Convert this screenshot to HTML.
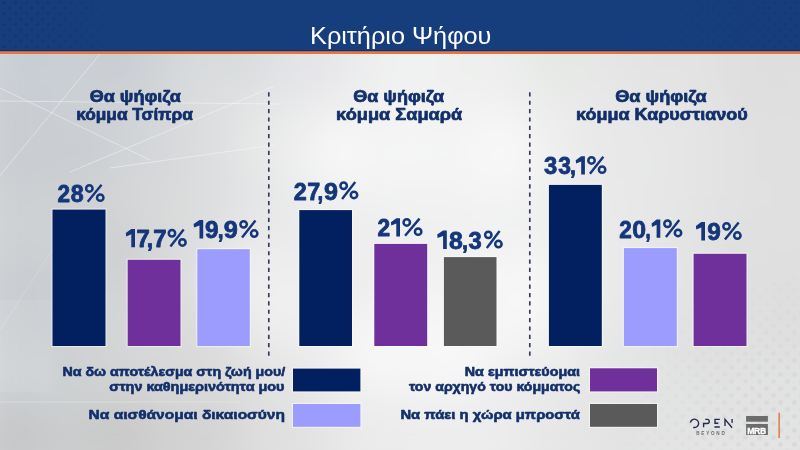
<!DOCTYPE html>
<html><head><meta charset="utf-8">
<style>
html,body{margin:0;padding:0;}
body{width:800px;height:450px;overflow:hidden;position:relative;font-family:"Liberation Sans",sans-serif;background:#e6e6e7;}
svg{position:absolute;left:0;top:0;will-change:transform;}
text{font-family:"Liberation Sans",sans-serif;}
</style></head><body>
<svg width="800" height="450" viewBox="0 0 800 450">

<defs><filter id="bl" x="-5%" y="-5%" width="110%" height="110%"><feGaussianBlur stdDeviation="18"/></filter></defs>
<g filter="url(#bl)"><rect x="-20" y="-20" width="20" height="20" fill="#cacfd5"/><rect x="0" y="-20" width="20" height="20" fill="#c9cfd5"/><rect x="20" y="-20" width="20" height="20" fill="#c8ced5"/><rect x="40" y="-20" width="20" height="20" fill="#c9cfd5"/><rect x="60" y="-20" width="20" height="20" fill="#cbd0d5"/><rect x="80" y="-20" width="20" height="20" fill="#cbcfd3"/><rect x="100" y="-20" width="20" height="20" fill="#c9cdd1"/><rect x="120" y="-20" width="20" height="20" fill="#c9cdd1"/><rect x="140" y="-20" width="20" height="20" fill="#cdd1d4"/><rect x="160" y="-20" width="20" height="20" fill="#d3d6d9"/><rect x="180" y="-20" width="20" height="20" fill="#d8dadd"/><rect x="200" y="-20" width="20" height="20" fill="#d9dcde"/><rect x="220" y="-20" width="20" height="20" fill="#d8dbdd"/><rect x="240" y="-20" width="20" height="20" fill="#d9dcde"/><rect x="260" y="-20" width="20" height="20" fill="#dfe0e3"/><rect x="280" y="-20" width="20" height="20" fill="#e4e4e8"/><rect x="300" y="-20" width="20" height="20" fill="#e4e4e8"/><rect x="320" y="-20" width="20" height="20" fill="#e5e6e9"/><rect x="340" y="-20" width="20" height="20" fill="#e9eaeb"/><rect x="360" y="-20" width="20" height="20" fill="#edeeee"/><rect x="380" y="-20" width="20" height="20" fill="#f0f1f1"/><rect x="400" y="-20" width="20" height="20" fill="#f1f2f2"/><rect x="420" y="-20" width="20" height="20" fill="#f0f1f1"/><rect x="440" y="-20" width="20" height="20" fill="#eef0ee"/><rect x="460" y="-20" width="20" height="20" fill="#eef0ee"/><rect x="480" y="-20" width="20" height="20" fill="#eeefee"/><rect x="500" y="-20" width="20" height="20" fill="#ecedec"/><rect x="520" y="-20" width="20" height="20" fill="#e8eae8"/><rect x="540" y="-20" width="20" height="20" fill="#e6e8e6"/><rect x="560" y="-20" width="20" height="20" fill="#e6e8e6"/><rect x="580" y="-20" width="20" height="20" fill="#e6e8e6"/><rect x="600" y="-20" width="20" height="20" fill="#e5e6e5"/><rect x="620" y="-20" width="20" height="20" fill="#e3e4e3"/><rect x="640" y="-20" width="20" height="20" fill="#e2e3e2"/><rect x="660" y="-20" width="20" height="20" fill="#e2e3e2"/><rect x="680" y="-20" width="20" height="20" fill="#e3e3e3"/><rect x="700" y="-20" width="20" height="20" fill="#e2e2e2"/><rect x="720" y="-20" width="20" height="20" fill="#e0e0e0"/><rect x="740" y="-20" width="20" height="20" fill="#dfdfdf"/><rect x="760" y="-20" width="20" height="20" fill="#dedede"/><rect x="780" y="-20" width="20" height="20" fill="#dedede"/><rect x="800" y="-20" width="20" height="20" fill="#dfdfdf"/><rect x="820" y="-20" width="20" height="20" fill="#dfdfdf"/><rect x="-20" y="0" width="20" height="20" fill="#cacfd5"/><rect x="0" y="0" width="20" height="20" fill="#c9cfd5"/><rect x="20" y="0" width="20" height="20" fill="#c8ced5"/><rect x="40" y="0" width="20" height="20" fill="#c9cfd5"/><rect x="60" y="0" width="20" height="20" fill="#cbd0d5"/><rect x="80" y="0" width="20" height="20" fill="#cbcfd3"/><rect x="100" y="0" width="20" height="20" fill="#c9cdd1"/><rect x="120" y="0" width="20" height="20" fill="#c9cdd1"/><rect x="140" y="0" width="20" height="20" fill="#cdd1d4"/><rect x="160" y="0" width="20" height="20" fill="#d3d6d9"/><rect x="180" y="0" width="20" height="20" fill="#d8dadd"/><rect x="200" y="0" width="20" height="20" fill="#d9dcde"/><rect x="220" y="0" width="20" height="20" fill="#d8dbdd"/><rect x="240" y="0" width="20" height="20" fill="#d9dcde"/><rect x="260" y="0" width="20" height="20" fill="#dfe0e3"/><rect x="280" y="0" width="20" height="20" fill="#e4e4e8"/><rect x="300" y="0" width="20" height="20" fill="#e4e4e8"/><rect x="320" y="0" width="20" height="20" fill="#e5e6e9"/><rect x="340" y="0" width="20" height="20" fill="#e9eaeb"/><rect x="360" y="0" width="20" height="20" fill="#edeeee"/><rect x="380" y="0" width="20" height="20" fill="#f0f1f1"/><rect x="400" y="0" width="20" height="20" fill="#f1f2f2"/><rect x="420" y="0" width="20" height="20" fill="#f0f1f1"/><rect x="440" y="0" width="20" height="20" fill="#eef0ee"/><rect x="460" y="0" width="20" height="20" fill="#eef0ee"/><rect x="480" y="0" width="20" height="20" fill="#eeefee"/><rect x="500" y="0" width="20" height="20" fill="#ecedec"/><rect x="520" y="0" width="20" height="20" fill="#e8eae8"/><rect x="540" y="0" width="20" height="20" fill="#e6e8e6"/><rect x="560" y="0" width="20" height="20" fill="#e6e8e6"/><rect x="580" y="0" width="20" height="20" fill="#e6e8e6"/><rect x="600" y="0" width="20" height="20" fill="#e5e6e5"/><rect x="620" y="0" width="20" height="20" fill="#e3e4e3"/><rect x="640" y="0" width="20" height="20" fill="#e2e3e2"/><rect x="660" y="0" width="20" height="20" fill="#e2e3e2"/><rect x="680" y="0" width="20" height="20" fill="#e3e3e3"/><rect x="700" y="0" width="20" height="20" fill="#e2e2e2"/><rect x="720" y="0" width="20" height="20" fill="#e0e0e0"/><rect x="740" y="0" width="20" height="20" fill="#dfdfdf"/><rect x="760" y="0" width="20" height="20" fill="#dedede"/><rect x="780" y="0" width="20" height="20" fill="#dedede"/><rect x="800" y="0" width="20" height="20" fill="#dfdfdf"/><rect x="820" y="0" width="20" height="20" fill="#dfdfdf"/><rect x="-20" y="20" width="20" height="20" fill="#cacfd5"/><rect x="0" y="20" width="20" height="20" fill="#c9cfd5"/><rect x="20" y="20" width="20" height="20" fill="#c8ced5"/><rect x="40" y="20" width="20" height="20" fill="#c9cfd5"/><rect x="60" y="20" width="20" height="20" fill="#cbd0d5"/><rect x="80" y="20" width="20" height="20" fill="#cbcfd3"/><rect x="100" y="20" width="20" height="20" fill="#c9cdd1"/><rect x="120" y="20" width="20" height="20" fill="#c9cdd1"/><rect x="140" y="20" width="20" height="20" fill="#cdd1d4"/><rect x="160" y="20" width="20" height="20" fill="#d3d6d9"/><rect x="180" y="20" width="20" height="20" fill="#d8dadd"/><rect x="200" y="20" width="20" height="20" fill="#d9dcde"/><rect x="220" y="20" width="20" height="20" fill="#d8dbdd"/><rect x="240" y="20" width="20" height="20" fill="#d9dcde"/><rect x="260" y="20" width="20" height="20" fill="#dfe0e3"/><rect x="280" y="20" width="20" height="20" fill="#e4e4e8"/><rect x="300" y="20" width="20" height="20" fill="#e4e4e8"/><rect x="320" y="20" width="20" height="20" fill="#e5e6e9"/><rect x="340" y="20" width="20" height="20" fill="#e9eaeb"/><rect x="360" y="20" width="20" height="20" fill="#edeeee"/><rect x="380" y="20" width="20" height="20" fill="#f0f1f1"/><rect x="400" y="20" width="20" height="20" fill="#f1f2f2"/><rect x="420" y="20" width="20" height="20" fill="#f0f1f1"/><rect x="440" y="20" width="20" height="20" fill="#eef0ee"/><rect x="460" y="20" width="20" height="20" fill="#eef0ee"/><rect x="480" y="20" width="20" height="20" fill="#eeefee"/><rect x="500" y="20" width="20" height="20" fill="#ecedec"/><rect x="520" y="20" width="20" height="20" fill="#e8eae8"/><rect x="540" y="20" width="20" height="20" fill="#e6e8e6"/><rect x="560" y="20" width="20" height="20" fill="#e6e8e6"/><rect x="580" y="20" width="20" height="20" fill="#e6e8e6"/><rect x="600" y="20" width="20" height="20" fill="#e5e6e5"/><rect x="620" y="20" width="20" height="20" fill="#e3e4e3"/><rect x="640" y="20" width="20" height="20" fill="#e2e3e2"/><rect x="660" y="20" width="20" height="20" fill="#e2e3e2"/><rect x="680" y="20" width="20" height="20" fill="#e3e3e3"/><rect x="700" y="20" width="20" height="20" fill="#e2e2e2"/><rect x="720" y="20" width="20" height="20" fill="#e0e0e0"/><rect x="740" y="20" width="20" height="20" fill="#dfdfdf"/><rect x="760" y="20" width="20" height="20" fill="#dedede"/><rect x="780" y="20" width="20" height="20" fill="#dedede"/><rect x="800" y="20" width="20" height="20" fill="#dfdfdf"/><rect x="820" y="20" width="20" height="20" fill="#dfdfdf"/><rect x="-20" y="40" width="20" height="20" fill="#cacfd5"/><rect x="0" y="40" width="20" height="20" fill="#c9cfd5"/><rect x="20" y="40" width="20" height="20" fill="#c8ced5"/><rect x="40" y="40" width="20" height="20" fill="#c9cfd5"/><rect x="60" y="40" width="20" height="20" fill="#cbd0d5"/><rect x="80" y="40" width="20" height="20" fill="#cbcfd3"/><rect x="100" y="40" width="20" height="20" fill="#c9cdd1"/><rect x="120" y="40" width="20" height="20" fill="#c9cdd1"/><rect x="140" y="40" width="20" height="20" fill="#cdd1d4"/><rect x="160" y="40" width="20" height="20" fill="#d3d6d9"/><rect x="180" y="40" width="20" height="20" fill="#d8dadd"/><rect x="200" y="40" width="20" height="20" fill="#d9dcde"/><rect x="220" y="40" width="20" height="20" fill="#d8dbdd"/><rect x="240" y="40" width="20" height="20" fill="#d9dcde"/><rect x="260" y="40" width="20" height="20" fill="#dfe0e3"/><rect x="280" y="40" width="20" height="20" fill="#e4e4e8"/><rect x="300" y="40" width="20" height="20" fill="#e4e4e8"/><rect x="320" y="40" width="20" height="20" fill="#e5e6e9"/><rect x="340" y="40" width="20" height="20" fill="#e9eaeb"/><rect x="360" y="40" width="20" height="20" fill="#edeeee"/><rect x="380" y="40" width="20" height="20" fill="#f0f1f1"/><rect x="400" y="40" width="20" height="20" fill="#f1f2f2"/><rect x="420" y="40" width="20" height="20" fill="#f0f1f1"/><rect x="440" y="40" width="20" height="20" fill="#eef0ee"/><rect x="460" y="40" width="20" height="20" fill="#eef0ee"/><rect x="480" y="40" width="20" height="20" fill="#eeefee"/><rect x="500" y="40" width="20" height="20" fill="#ecedec"/><rect x="520" y="40" width="20" height="20" fill="#e8eae8"/><rect x="540" y="40" width="20" height="20" fill="#e6e8e6"/><rect x="560" y="40" width="20" height="20" fill="#e6e8e6"/><rect x="580" y="40" width="20" height="20" fill="#e6e8e6"/><rect x="600" y="40" width="20" height="20" fill="#e5e6e5"/><rect x="620" y="40" width="20" height="20" fill="#e3e4e3"/><rect x="640" y="40" width="20" height="20" fill="#e2e3e2"/><rect x="660" y="40" width="20" height="20" fill="#e2e3e2"/><rect x="680" y="40" width="20" height="20" fill="#e3e3e3"/><rect x="700" y="40" width="20" height="20" fill="#e2e2e2"/><rect x="720" y="40" width="20" height="20" fill="#e0e0e0"/><rect x="740" y="40" width="20" height="20" fill="#dfdfdf"/><rect x="760" y="40" width="20" height="20" fill="#dedede"/><rect x="780" y="40" width="20" height="20" fill="#dedede"/><rect x="800" y="40" width="20" height="20" fill="#dfdfdf"/><rect x="820" y="40" width="20" height="20" fill="#dfdfdf"/><rect x="-20" y="60" width="20" height="20" fill="#c9cfd5"/><rect x="0" y="60" width="20" height="20" fill="#c9ced5"/><rect x="20" y="60" width="20" height="20" fill="#c8ced5"/><rect x="40" y="60" width="20" height="20" fill="#c9ced5"/><rect x="60" y="60" width="20" height="20" fill="#cbcfd5"/><rect x="80" y="60" width="20" height="20" fill="#cbcfd3"/><rect x="100" y="60" width="20" height="20" fill="#c9cdd1"/><rect x="120" y="60" width="20" height="20" fill="#cacdd1"/><rect x="140" y="60" width="20" height="20" fill="#ced1d5"/><rect x="160" y="60" width="20" height="20" fill="#d4d7d9"/><rect x="180" y="60" width="20" height="20" fill="#d8dbdd"/><rect x="200" y="60" width="20" height="20" fill="#dadcde"/><rect x="220" y="60" width="20" height="20" fill="#d8dbdd"/><rect x="240" y="60" width="20" height="20" fill="#d9dcde"/><rect x="260" y="60" width="20" height="20" fill="#dfe1e3"/><rect x="280" y="60" width="20" height="20" fill="#e4e4e8"/><rect x="300" y="60" width="20" height="20" fill="#e4e4e8"/><rect x="320" y="60" width="20" height="20" fill="#e6e6e9"/><rect x="340" y="60" width="20" height="20" fill="#eaeaec"/><rect x="360" y="60" width="20" height="20" fill="#eeeeef"/><rect x="380" y="60" width="20" height="20" fill="#f1f1f1"/><rect x="400" y="60" width="20" height="20" fill="#f2f2f2"/><rect x="420" y="60" width="20" height="20" fill="#f1f1f1"/><rect x="440" y="60" width="20" height="20" fill="#eff0ef"/><rect x="460" y="60" width="20" height="20" fill="#eef0ee"/><rect x="480" y="60" width="20" height="20" fill="#eef0ee"/><rect x="500" y="60" width="20" height="20" fill="#eceeec"/><rect x="520" y="60" width="20" height="20" fill="#e8eae9"/><rect x="540" y="60" width="20" height="20" fill="#e6e8e6"/><rect x="560" y="60" width="20" height="20" fill="#e6e8e6"/><rect x="580" y="60" width="20" height="20" fill="#e6e8e6"/><rect x="600" y="60" width="20" height="20" fill="#e5e6e5"/><rect x="620" y="60" width="20" height="20" fill="#e3e4e3"/><rect x="640" y="60" width="20" height="20" fill="#e2e3e2"/><rect x="660" y="60" width="20" height="20" fill="#e2e3e2"/><rect x="680" y="60" width="20" height="20" fill="#e3e3e3"/><rect x="700" y="60" width="20" height="20" fill="#e2e2e2"/><rect x="720" y="60" width="20" height="20" fill="#e0e0e0"/><rect x="740" y="60" width="20" height="20" fill="#dedede"/><rect x="760" y="60" width="20" height="20" fill="#dedede"/><rect x="780" y="60" width="20" height="20" fill="#dedede"/><rect x="800" y="60" width="20" height="20" fill="#dfdfdf"/><rect x="820" y="60" width="20" height="20" fill="#dfdfdf"/><rect x="-20" y="80" width="20" height="20" fill="#caced4"/><rect x="0" y="80" width="20" height="20" fill="#c9ced4"/><rect x="20" y="80" width="20" height="20" fill="#c9ced5"/><rect x="40" y="80" width="20" height="20" fill="#cacfd5"/><rect x="60" y="80" width="20" height="20" fill="#ccd0d4"/><rect x="80" y="80" width="20" height="20" fill="#ccd0d4"/><rect x="100" y="80" width="20" height="20" fill="#ccd0d3"/><rect x="120" y="80" width="20" height="20" fill="#cdd0d4"/><rect x="140" y="80" width="20" height="20" fill="#d1d4d7"/><rect x="160" y="80" width="20" height="20" fill="#d5d8da"/><rect x="180" y="80" width="20" height="20" fill="#d9dbdd"/><rect x="200" y="80" width="20" height="20" fill="#dbdddf"/><rect x="220" y="80" width="20" height="20" fill="#dcdee0"/><rect x="240" y="80" width="20" height="20" fill="#dddfe1"/><rect x="260" y="80" width="20" height="20" fill="#e2e3e5"/><rect x="280" y="80" width="20" height="20" fill="#e4e5e8"/><rect x="300" y="80" width="20" height="20" fill="#e6e6e9"/><rect x="320" y="80" width="20" height="20" fill="#e9e9eb"/><rect x="340" y="80" width="20" height="20" fill="#ecedee"/><rect x="360" y="80" width="20" height="20" fill="#efeff0"/><rect x="380" y="80" width="20" height="20" fill="#f1f1f1"/><rect x="400" y="80" width="20" height="20" fill="#f1f2f2"/><rect x="420" y="80" width="20" height="20" fill="#f1f1f1"/><rect x="440" y="80" width="20" height="20" fill="#eff0f0"/><rect x="460" y="80" width="20" height="20" fill="#eff0ef"/><rect x="480" y="80" width="20" height="20" fill="#eff0ef"/><rect x="500" y="80" width="20" height="20" fill="#eeefee"/><rect x="520" y="80" width="20" height="20" fill="#ebeceb"/><rect x="540" y="80" width="20" height="20" fill="#e8eae8"/><rect x="560" y="80" width="20" height="20" fill="#e7e9e7"/><rect x="580" y="80" width="20" height="20" fill="#e7e8e7"/><rect x="600" y="80" width="20" height="20" fill="#e6e7e6"/><rect x="620" y="80" width="20" height="20" fill="#e4e5e4"/><rect x="640" y="80" width="20" height="20" fill="#e3e4e3"/><rect x="660" y="80" width="20" height="20" fill="#e3e4e3"/><rect x="680" y="80" width="20" height="20" fill="#e3e4e3"/><rect x="700" y="80" width="20" height="20" fill="#e2e2e2"/><rect x="720" y="80" width="20" height="20" fill="#e0e0e0"/><rect x="740" y="80" width="20" height="20" fill="#dfdfdf"/><rect x="760" y="80" width="20" height="20" fill="#dedede"/><rect x="780" y="80" width="20" height="20" fill="#dfdfdf"/><rect x="800" y="80" width="20" height="20" fill="#dfdfdf"/><rect x="820" y="80" width="20" height="20" fill="#dfdfdf"/><rect x="-20" y="100" width="20" height="20" fill="#c9cdd1"/><rect x="0" y="100" width="20" height="20" fill="#c9cdd1"/><rect x="20" y="100" width="20" height="20" fill="#caced2"/><rect x="40" y="100" width="20" height="20" fill="#cbcfd3"/><rect x="60" y="100" width="20" height="20" fill="#cccfd3"/><rect x="80" y="100" width="20" height="20" fill="#cdd0d4"/><rect x="100" y="100" width="20" height="20" fill="#cfd2d5"/><rect x="120" y="100" width="20" height="20" fill="#d1d4d7"/><rect x="140" y="100" width="20" height="20" fill="#d3d6d9"/><rect x="160" y="100" width="20" height="20" fill="#d6d9db"/><rect x="180" y="100" width="20" height="20" fill="#dadcde"/><rect x="200" y="100" width="20" height="20" fill="#dddee0"/><rect x="220" y="100" width="20" height="20" fill="#dfe1e2"/><rect x="240" y="100" width="20" height="20" fill="#e3e5e5"/><rect x="260" y="100" width="20" height="20" fill="#e6e8e8"/><rect x="280" y="100" width="20" height="20" fill="#e8e9e9"/><rect x="300" y="100" width="20" height="20" fill="#ebebec"/><rect x="320" y="100" width="20" height="20" fill="#eeefef"/><rect x="340" y="100" width="20" height="20" fill="#f0f0f1"/><rect x="360" y="100" width="20" height="20" fill="#f0f1f1"/><rect x="380" y="100" width="20" height="20" fill="#f1f2f2"/><rect x="400" y="100" width="20" height="20" fill="#f2f2f2"/><rect x="420" y="100" width="20" height="20" fill="#f1f2f2"/><rect x="440" y="100" width="20" height="20" fill="#f1f1f1"/><rect x="460" y="100" width="20" height="20" fill="#f1f2f1"/><rect x="480" y="100" width="20" height="20" fill="#f2f3f2"/><rect x="500" y="100" width="20" height="20" fill="#f1f2f2"/><rect x="520" y="100" width="20" height="20" fill="#eeefef"/><rect x="540" y="100" width="20" height="20" fill="#ebeceb"/><rect x="560" y="100" width="20" height="20" fill="#e9eae9"/><rect x="580" y="100" width="20" height="20" fill="#e8e9e8"/><rect x="600" y="100" width="20" height="20" fill="#e7e8e7"/><rect x="620" y="100" width="20" height="20" fill="#e6e7e6"/><rect x="640" y="100" width="20" height="20" fill="#e5e6e5"/><rect x="660" y="100" width="20" height="20" fill="#e4e5e5"/><rect x="680" y="100" width="20" height="20" fill="#e4e4e4"/><rect x="700" y="100" width="20" height="20" fill="#e2e3e2"/><rect x="720" y="100" width="20" height="20" fill="#e1e1e1"/><rect x="740" y="100" width="20" height="20" fill="#e0e0e0"/><rect x="760" y="100" width="20" height="20" fill="#e0e0e0"/><rect x="780" y="100" width="20" height="20" fill="#e0e0e0"/><rect x="800" y="100" width="20" height="20" fill="#e0e0e0"/><rect x="820" y="100" width="20" height="20" fill="#e0e0e0"/><rect x="-20" y="120" width="20" height="20" fill="#c8cbcf"/><rect x="0" y="120" width="20" height="20" fill="#c8cbcf"/><rect x="20" y="120" width="20" height="20" fill="#c9ccd0"/><rect x="40" y="120" width="20" height="20" fill="#cbced2"/><rect x="60" y="120" width="20" height="20" fill="#cacdd1"/><rect x="80" y="120" width="20" height="20" fill="#cbced2"/><rect x="100" y="120" width="20" height="20" fill="#cfd1d5"/><rect x="120" y="120" width="20" height="20" fill="#d2d5d8"/><rect x="140" y="120" width="20" height="20" fill="#d3d6d8"/><rect x="160" y="120" width="20" height="20" fill="#d6d8da"/><rect x="180" y="120" width="20" height="20" fill="#dbdcde"/><rect x="200" y="120" width="20" height="20" fill="#dedee0"/><rect x="220" y="120" width="20" height="20" fill="#e0e1e2"/><rect x="240" y="120" width="20" height="20" fill="#e7e8e8"/><rect x="260" y="120" width="20" height="20" fill="#eaecea"/><rect x="280" y="120" width="20" height="20" fill="#eaecea"/><rect x="300" y="120" width="20" height="20" fill="#f0f0f0"/><rect x="320" y="120" width="20" height="20" fill="#f6f6f6"/><rect x="340" y="120" width="20" height="20" fill="#f5f5f5"/><rect x="360" y="120" width="20" height="20" fill="#f3f3f3"/><rect x="380" y="120" width="20" height="20" fill="#f4f4f4"/><rect x="400" y="120" width="20" height="20" fill="#f5f5f5"/><rect x="420" y="120" width="20" height="20" fill="#f4f4f4"/><rect x="440" y="120" width="20" height="20" fill="#f3f3f3"/><rect x="460" y="120" width="20" height="20" fill="#f4f4f4"/><rect x="480" y="120" width="20" height="20" fill="#f7f7f7"/><rect x="500" y="120" width="20" height="20" fill="#f7f7f7"/><rect x="520" y="120" width="20" height="20" fill="#f3f3f3"/><rect x="540" y="120" width="20" height="20" fill="#eeefee"/><rect x="560" y="120" width="20" height="20" fill="#eaebeb"/><rect x="580" y="120" width="20" height="20" fill="#e9e9e9"/><rect x="600" y="120" width="20" height="20" fill="#e8e8e8"/><rect x="620" y="120" width="20" height="20" fill="#e8e8e8"/><rect x="640" y="120" width="20" height="20" fill="#e7e7e7"/><rect x="660" y="120" width="20" height="20" fill="#e6e6e6"/><rect x="680" y="120" width="20" height="20" fill="#e4e5e4"/><rect x="700" y="120" width="20" height="20" fill="#e3e3e3"/><rect x="720" y="120" width="20" height="20" fill="#e1e2e1"/><rect x="740" y="120" width="20" height="20" fill="#e0e1e0"/><rect x="760" y="120" width="20" height="20" fill="#e0e0e0"/><rect x="780" y="120" width="20" height="20" fill="#e0e0e0"/><rect x="800" y="120" width="20" height="20" fill="#e0e0e0"/><rect x="820" y="120" width="20" height="20" fill="#e0e0e0"/><rect x="-20" y="140" width="20" height="20" fill="#c8cbcf"/><rect x="0" y="140" width="20" height="20" fill="#c8cbcf"/><rect x="20" y="140" width="20" height="20" fill="#c9ccd0"/><rect x="40" y="140" width="20" height="20" fill="#cacdd1"/><rect x="60" y="140" width="20" height="20" fill="#c9ccd0"/><rect x="80" y="140" width="20" height="20" fill="#c9ccd0"/><rect x="100" y="140" width="20" height="20" fill="#ced1d4"/><rect x="120" y="140" width="20" height="20" fill="#d2d5d8"/><rect x="140" y="140" width="20" height="20" fill="#d2d5d8"/><rect x="160" y="140" width="20" height="20" fill="#d5d7da"/><rect x="180" y="140" width="20" height="20" fill="#dcdddf"/><rect x="200" y="140" width="20" height="20" fill="#dedee0"/><rect x="220" y="140" width="20" height="20" fill="#dfe0e1"/><rect x="240" y="140" width="20" height="20" fill="#e7e8e7"/><rect x="260" y="140" width="20" height="20" fill="#eaecea"/><rect x="280" y="140" width="20" height="20" fill="#ebeceb"/><rect x="300" y="140" width="20" height="20" fill="#f3f3f3"/><rect x="320" y="140" width="20" height="20" fill="#f9f9f9"/><rect x="340" y="140" width="20" height="20" fill="#f8f8f8"/><rect x="360" y="140" width="20" height="20" fill="#f4f4f4"/><rect x="380" y="140" width="20" height="20" fill="#f5f5f5"/><rect x="400" y="140" width="20" height="20" fill="#f6f6f6"/><rect x="420" y="140" width="20" height="20" fill="#f5f5f5"/><rect x="440" y="140" width="20" height="20" fill="#f4f4f4"/><rect x="460" y="140" width="20" height="20" fill="#f6f6f6"/><rect x="480" y="140" width="20" height="20" fill="#f9f9f9"/><rect x="500" y="140" width="20" height="20" fill="#f9f9f9"/><rect x="520" y="140" width="20" height="20" fill="#f5f5f5"/><rect x="540" y="140" width="20" height="20" fill="#f0f0f0"/><rect x="560" y="140" width="20" height="20" fill="#ebeceb"/><rect x="580" y="140" width="20" height="20" fill="#e9e9e9"/><rect x="600" y="140" width="20" height="20" fill="#e8e8e8"/><rect x="620" y="140" width="20" height="20" fill="#e8e8e8"/><rect x="640" y="140" width="20" height="20" fill="#e7e8e8"/><rect x="660" y="140" width="20" height="20" fill="#e6e6e6"/><rect x="680" y="140" width="20" height="20" fill="#e5e5e5"/><rect x="700" y="140" width="20" height="20" fill="#e3e3e3"/><rect x="720" y="140" width="20" height="20" fill="#e2e2e2"/><rect x="740" y="140" width="20" height="20" fill="#e0e1e0"/><rect x="760" y="140" width="20" height="20" fill="#e0e0e0"/><rect x="780" y="140" width="20" height="20" fill="#e0e0e0"/><rect x="800" y="140" width="20" height="20" fill="#e0e0e0"/><rect x="820" y="140" width="20" height="20" fill="#e0e0e0"/><rect x="-20" y="160" width="20" height="20" fill="#cacdd1"/><rect x="0" y="160" width="20" height="20" fill="#cacdd1"/><rect x="20" y="160" width="20" height="20" fill="#cbced1"/><rect x="40" y="160" width="20" height="20" fill="#cbced2"/><rect x="60" y="160" width="20" height="20" fill="#cbcdd1"/><rect x="80" y="160" width="20" height="20" fill="#cbced2"/><rect x="100" y="160" width="20" height="20" fill="#d0d2d5"/><rect x="120" y="160" width="20" height="20" fill="#d3d5d8"/><rect x="140" y="160" width="20" height="20" fill="#d4d6d9"/><rect x="160" y="160" width="20" height="20" fill="#d7d9da"/><rect x="180" y="160" width="20" height="20" fill="#dbdcdd"/><rect x="200" y="160" width="20" height="20" fill="#dedee0"/><rect x="220" y="160" width="20" height="20" fill="#e0e0e1"/><rect x="240" y="160" width="20" height="20" fill="#e4e6e6"/><rect x="260" y="160" width="20" height="20" fill="#e8e9e9"/><rect x="280" y="160" width="20" height="20" fill="#ebecec"/><rect x="300" y="160" width="20" height="20" fill="#f1f2f2"/><rect x="320" y="160" width="20" height="20" fill="#f6f6f6"/><rect x="340" y="160" width="20" height="20" fill="#f6f6f6"/><rect x="360" y="160" width="20" height="20" fill="#f3f4f4"/><rect x="380" y="160" width="20" height="20" fill="#f4f4f4"/><rect x="400" y="160" width="20" height="20" fill="#f5f5f5"/><rect x="420" y="160" width="20" height="20" fill="#f4f4f4"/><rect x="440" y="160" width="20" height="20" fill="#f3f4f4"/><rect x="460" y="160" width="20" height="20" fill="#f5f5f5"/><rect x="480" y="160" width="20" height="20" fill="#f7f7f7"/><rect x="500" y="160" width="20" height="20" fill="#f7f7f7"/><rect x="520" y="160" width="20" height="20" fill="#f4f4f4"/><rect x="540" y="160" width="20" height="20" fill="#f0f0f0"/><rect x="560" y="160" width="20" height="20" fill="#ececec"/><rect x="580" y="160" width="20" height="20" fill="#e9e9e9"/><rect x="600" y="160" width="20" height="20" fill="#e8e8e8"/><rect x="620" y="160" width="20" height="20" fill="#e8e8e8"/><rect x="640" y="160" width="20" height="20" fill="#e7e8e8"/><rect x="660" y="160" width="20" height="20" fill="#e6e6e6"/><rect x="680" y="160" width="20" height="20" fill="#e5e5e5"/><rect x="700" y="160" width="20" height="20" fill="#e3e3e3"/><rect x="720" y="160" width="20" height="20" fill="#e2e2e2"/><rect x="740" y="160" width="20" height="20" fill="#e1e1e1"/><rect x="760" y="160" width="20" height="20" fill="#e0e0e0"/><rect x="780" y="160" width="20" height="20" fill="#e0e0e0"/><rect x="800" y="160" width="20" height="20" fill="#e0e0e0"/><rect x="820" y="160" width="20" height="20" fill="#e0e0e0"/><rect x="-20" y="180" width="20" height="20" fill="#cccfd2"/><rect x="0" y="180" width="20" height="20" fill="#cccfd2"/><rect x="20" y="180" width="20" height="20" fill="#cdcfd3"/><rect x="40" y="180" width="20" height="20" fill="#cdd0d3"/><rect x="60" y="180" width="20" height="20" fill="#ced0d3"/><rect x="80" y="180" width="20" height="20" fill="#cfd1d4"/><rect x="100" y="180" width="20" height="20" fill="#d2d4d6"/><rect x="120" y="180" width="20" height="20" fill="#d5d6d8"/><rect x="140" y="180" width="20" height="20" fill="#d8d9da"/><rect x="160" y="180" width="20" height="20" fill="#dadada"/><rect x="180" y="180" width="20" height="20" fill="#dadbdb"/><rect x="200" y="180" width="20" height="20" fill="#dddedf"/><rect x="220" y="180" width="20" height="20" fill="#e0e1e2"/><rect x="240" y="180" width="20" height="20" fill="#e3e4e5"/><rect x="260" y="180" width="20" height="20" fill="#e7e8e8"/><rect x="280" y="180" width="20" height="20" fill="#eaebeb"/><rect x="300" y="180" width="20" height="20" fill="#eeeeef"/><rect x="320" y="180" width="20" height="20" fill="#f1f1f1"/><rect x="340" y="180" width="20" height="20" fill="#f2f2f2"/><rect x="360" y="180" width="20" height="20" fill="#f1f2f2"/><rect x="380" y="180" width="20" height="20" fill="#f2f2f2"/><rect x="400" y="180" width="20" height="20" fill="#f3f3f3"/><rect x="420" y="180" width="20" height="20" fill="#f2f3f3"/><rect x="440" y="180" width="20" height="20" fill="#f2f2f2"/><rect x="460" y="180" width="20" height="20" fill="#f3f3f3"/><rect x="480" y="180" width="20" height="20" fill="#f4f4f4"/><rect x="500" y="180" width="20" height="20" fill="#f4f4f4"/><rect x="520" y="180" width="20" height="20" fill="#f2f2f2"/><rect x="540" y="180" width="20" height="20" fill="#efefef"/><rect x="560" y="180" width="20" height="20" fill="#ececec"/><rect x="580" y="180" width="20" height="20" fill="#eaeaea"/><rect x="600" y="180" width="20" height="20" fill="#e9e9e9"/><rect x="620" y="180" width="20" height="20" fill="#e8e8e8"/><rect x="640" y="180" width="20" height="20" fill="#e7e7e7"/><rect x="660" y="180" width="20" height="20" fill="#e6e6e6"/><rect x="680" y="180" width="20" height="20" fill="#e4e5e5"/><rect x="700" y="180" width="20" height="20" fill="#e3e3e3"/><rect x="720" y="180" width="20" height="20" fill="#e2e2e2"/><rect x="740" y="180" width="20" height="20" fill="#e1e1e1"/><rect x="760" y="180" width="20" height="20" fill="#e1e1e1"/><rect x="780" y="180" width="20" height="20" fill="#e1e1e1"/><rect x="800" y="180" width="20" height="20" fill="#e1e1e1"/><rect x="820" y="180" width="20" height="20" fill="#e1e1e1"/><rect x="-20" y="200" width="20" height="20" fill="#ced0d4"/><rect x="0" y="200" width="20" height="20" fill="#ced0d4"/><rect x="20" y="200" width="20" height="20" fill="#ced1d4"/><rect x="40" y="200" width="20" height="20" fill="#cfd1d4"/><rect x="60" y="200" width="20" height="20" fill="#d0d2d4"/><rect x="80" y="200" width="20" height="20" fill="#d1d2d5"/><rect x="100" y="200" width="20" height="20" fill="#d2d3d5"/><rect x="120" y="200" width="20" height="20" fill="#d5d6d7"/><rect x="140" y="200" width="20" height="20" fill="#d9d9da"/><rect x="160" y="200" width="20" height="20" fill="#dadada"/><rect x="180" y="200" width="20" height="20" fill="#dadbdb"/><rect x="200" y="200" width="20" height="20" fill="#dddedf"/><rect x="220" y="200" width="20" height="20" fill="#e1e1e2"/><rect x="240" y="200" width="20" height="20" fill="#e4e5e6"/><rect x="260" y="200" width="20" height="20" fill="#e7e7e8"/><rect x="280" y="200" width="20" height="20" fill="#e9eaea"/><rect x="300" y="200" width="20" height="20" fill="#ebeced"/><rect x="320" y="200" width="20" height="20" fill="#edeeee"/><rect x="340" y="200" width="20" height="20" fill="#efefef"/><rect x="360" y="200" width="20" height="20" fill="#eff0f0"/><rect x="380" y="200" width="20" height="20" fill="#f0f0f0"/><rect x="400" y="200" width="20" height="20" fill="#f0f1f1"/><rect x="420" y="200" width="20" height="20" fill="#f1f1f1"/><rect x="440" y="200" width="20" height="20" fill="#f1f1f1"/><rect x="460" y="200" width="20" height="20" fill="#f1f2f2"/><rect x="480" y="200" width="20" height="20" fill="#f2f2f2"/><rect x="500" y="200" width="20" height="20" fill="#f1f2f2"/><rect x="520" y="200" width="20" height="20" fill="#f0f1f1"/><rect x="540" y="200" width="20" height="20" fill="#eeefef"/><rect x="560" y="200" width="20" height="20" fill="#eceded"/><rect x="580" y="200" width="20" height="20" fill="#eaebeb"/><rect x="600" y="200" width="20" height="20" fill="#e9e9e9"/><rect x="620" y="200" width="20" height="20" fill="#e8e8e8"/><rect x="640" y="200" width="20" height="20" fill="#e7e7e7"/><rect x="660" y="200" width="20" height="20" fill="#e5e6e6"/><rect x="680" y="200" width="20" height="20" fill="#e4e4e4"/><rect x="700" y="200" width="20" height="20" fill="#e2e3e3"/><rect x="720" y="200" width="20" height="20" fill="#e1e1e1"/><rect x="740" y="200" width="20" height="20" fill="#e1e1e1"/><rect x="760" y="200" width="20" height="20" fill="#e1e1e1"/><rect x="780" y="200" width="20" height="20" fill="#e1e1e1"/><rect x="800" y="200" width="20" height="20" fill="#e1e1e1"/><rect x="820" y="200" width="20" height="20" fill="#e1e1e1"/><rect x="-20" y="220" width="20" height="20" fill="#ced1d4"/><rect x="0" y="220" width="20" height="20" fill="#ced1d4"/><rect x="20" y="220" width="20" height="20" fill="#ced1d4"/><rect x="40" y="220" width="20" height="20" fill="#cfd1d4"/><rect x="60" y="220" width="20" height="20" fill="#d0d2d4"/><rect x="80" y="220" width="20" height="20" fill="#d0d1d3"/><rect x="100" y="220" width="20" height="20" fill="#cfd0d2"/><rect x="120" y="220" width="20" height="20" fill="#d1d2d4"/><rect x="140" y="220" width="20" height="20" fill="#d6d7d8"/><rect x="160" y="220" width="20" height="20" fill="#d9dada"/><rect x="180" y="220" width="20" height="20" fill="#dbdcdd"/><rect x="200" y="220" width="20" height="20" fill="#dfdfe1"/><rect x="220" y="220" width="20" height="20" fill="#e3e4e5"/><rect x="240" y="220" width="20" height="20" fill="#e7e7e8"/><rect x="260" y="220" width="20" height="20" fill="#e9e9ea"/><rect x="280" y="220" width="20" height="20" fill="#eaeaeb"/><rect x="300" y="220" width="20" height="20" fill="#ebebec"/><rect x="320" y="220" width="20" height="20" fill="#ececed"/><rect x="340" y="220" width="20" height="20" fill="#ededee"/><rect x="360" y="220" width="20" height="20" fill="#eeeeef"/><rect x="380" y="220" width="20" height="20" fill="#efefef"/><rect x="400" y="220" width="20" height="20" fill="#eff0f0"/><rect x="420" y="220" width="20" height="20" fill="#f0f0f0"/><rect x="440" y="220" width="20" height="20" fill="#f0f0f1"/><rect x="460" y="220" width="20" height="20" fill="#f1f1f1"/><rect x="480" y="220" width="20" height="20" fill="#f1f1f1"/><rect x="500" y="220" width="20" height="20" fill="#f1f1f1"/><rect x="520" y="220" width="20" height="20" fill="#f0f1f1"/><rect x="540" y="220" width="20" height="20" fill="#efefef"/><rect x="560" y="220" width="20" height="20" fill="#ededed"/><rect x="580" y="220" width="20" height="20" fill="#ebebeb"/><rect x="600" y="220" width="20" height="20" fill="#e9eaea"/><rect x="620" y="220" width="20" height="20" fill="#e8e8e8"/><rect x="640" y="220" width="20" height="20" fill="#e7e7e7"/><rect x="660" y="220" width="20" height="20" fill="#e5e5e5"/><rect x="680" y="220" width="20" height="20" fill="#e3e4e4"/><rect x="700" y="220" width="20" height="20" fill="#e2e2e2"/><rect x="720" y="220" width="20" height="20" fill="#e1e1e1"/><rect x="740" y="220" width="20" height="20" fill="#e0e0e0"/><rect x="760" y="220" width="20" height="20" fill="#e0e0e0"/><rect x="780" y="220" width="20" height="20" fill="#e0e0e0"/><rect x="800" y="220" width="20" height="20" fill="#e0e0e0"/><rect x="820" y="220" width="20" height="20" fill="#e0e0e0"/><rect x="-20" y="240" width="20" height="20" fill="#cdd0d3"/><rect x="0" y="240" width="20" height="20" fill="#cdcfd3"/><rect x="20" y="240" width="20" height="20" fill="#cdd0d3"/><rect x="40" y="240" width="20" height="20" fill="#ced0d3"/><rect x="60" y="240" width="20" height="20" fill="#cfd1d4"/><rect x="80" y="240" width="20" height="20" fill="#cfd0d3"/><rect x="100" y="240" width="20" height="20" fill="#cecfd1"/><rect x="120" y="240" width="20" height="20" fill="#cfd0d2"/><rect x="140" y="240" width="20" height="20" fill="#d4d5d6"/><rect x="160" y="240" width="20" height="20" fill="#d9d9db"/><rect x="180" y="240" width="20" height="20" fill="#dddddf"/><rect x="200" y="240" width="20" height="20" fill="#e2e2e4"/><rect x="220" y="240" width="20" height="20" fill="#e7e7e9"/><rect x="240" y="240" width="20" height="20" fill="#ebeaec"/><rect x="260" y="240" width="20" height="20" fill="#ecebed"/><rect x="280" y="240" width="20" height="20" fill="#ececed"/><rect x="300" y="240" width="20" height="20" fill="#ececed"/><rect x="320" y="240" width="20" height="20" fill="#ececed"/><rect x="340" y="240" width="20" height="20" fill="#ededed"/><rect x="360" y="240" width="20" height="20" fill="#edeeee"/><rect x="380" y="240" width="20" height="20" fill="#eeeeef"/><rect x="400" y="240" width="20" height="20" fill="#efefef"/><rect x="420" y="240" width="20" height="20" fill="#f0f0f0"/><rect x="440" y="240" width="20" height="20" fill="#f0f1f1"/><rect x="460" y="240" width="20" height="20" fill="#f1f1f1"/><rect x="480" y="240" width="20" height="20" fill="#f2f2f2"/><rect x="500" y="240" width="20" height="20" fill="#f3f3f3"/><rect x="520" y="240" width="20" height="20" fill="#f2f3f3"/><rect x="540" y="240" width="20" height="20" fill="#f1f1f1"/><rect x="560" y="240" width="20" height="20" fill="#eeefef"/><rect x="580" y="240" width="20" height="20" fill="#ececec"/><rect x="600" y="240" width="20" height="20" fill="#eaeaea"/><rect x="620" y="240" width="20" height="20" fill="#e8e8e8"/><rect x="640" y="240" width="20" height="20" fill="#e6e6e6"/><rect x="660" y="240" width="20" height="20" fill="#e5e5e5"/><rect x="680" y="240" width="20" height="20" fill="#e3e3e3"/><rect x="700" y="240" width="20" height="20" fill="#e2e2e2"/><rect x="720" y="240" width="20" height="20" fill="#e0e0e0"/><rect x="740" y="240" width="20" height="20" fill="#e0e0e0"/><rect x="760" y="240" width="20" height="20" fill="#e0e0e0"/><rect x="780" y="240" width="20" height="20" fill="#e0e0e0"/><rect x="800" y="240" width="20" height="20" fill="#e0e0e0"/><rect x="820" y="240" width="20" height="20" fill="#e0e0e0"/><rect x="-20" y="260" width="20" height="20" fill="#cbced1"/><rect x="0" y="260" width="20" height="20" fill="#cbcdd1"/><rect x="20" y="260" width="20" height="20" fill="#cacdd1"/><rect x="40" y="260" width="20" height="20" fill="#ccced2"/><rect x="60" y="260" width="20" height="20" fill="#ced0d3"/><rect x="80" y="260" width="20" height="20" fill="#d0d1d3"/><rect x="100" y="260" width="20" height="20" fill="#cfd0d2"/><rect x="120" y="260" width="20" height="20" fill="#d0d1d3"/><rect x="140" y="260" width="20" height="20" fill="#d4d5d7"/><rect x="160" y="260" width="20" height="20" fill="#d9dadc"/><rect x="180" y="260" width="20" height="20" fill="#dedfe0"/><rect x="200" y="260" width="20" height="20" fill="#e4e4e6"/><rect x="220" y="260" width="20" height="20" fill="#ebeaec"/><rect x="240" y="260" width="20" height="20" fill="#eeedf0"/><rect x="260" y="260" width="20" height="20" fill="#eeedef"/><rect x="280" y="260" width="20" height="20" fill="#eeeeef"/><rect x="300" y="260" width="20" height="20" fill="#ededee"/><rect x="320" y="260" width="20" height="20" fill="#ededee"/><rect x="340" y="260" width="20" height="20" fill="#ededee"/><rect x="360" y="260" width="20" height="20" fill="#eeeeef"/><rect x="380" y="260" width="20" height="20" fill="#efefef"/><rect x="400" y="260" width="20" height="20" fill="#eff0f0"/><rect x="420" y="260" width="20" height="20" fill="#f0f0f1"/><rect x="440" y="260" width="20" height="20" fill="#f1f1f1"/><rect x="460" y="260" width="20" height="20" fill="#f2f3f3"/><rect x="480" y="260" width="20" height="20" fill="#f4f4f4"/><rect x="500" y="260" width="20" height="20" fill="#f6f6f6"/><rect x="520" y="260" width="20" height="20" fill="#f6f6f6"/><rect x="540" y="260" width="20" height="20" fill="#f4f4f4"/><rect x="560" y="260" width="20" height="20" fill="#f0f0f0"/><rect x="580" y="260" width="20" height="20" fill="#ededed"/><rect x="600" y="260" width="20" height="20" fill="#eaeaea"/><rect x="620" y="260" width="20" height="20" fill="#e8e8e8"/><rect x="640" y="260" width="20" height="20" fill="#e6e6e6"/><rect x="660" y="260" width="20" height="20" fill="#e4e4e4"/><rect x="680" y="260" width="20" height="20" fill="#e3e3e3"/><rect x="700" y="260" width="20" height="20" fill="#e1e2e2"/><rect x="720" y="260" width="20" height="20" fill="#e0e0e0"/><rect x="740" y="260" width="20" height="20" fill="#e0e0e0"/><rect x="760" y="260" width="20" height="20" fill="#e0e0e0"/><rect x="780" y="260" width="20" height="20" fill="#dfdfdf"/><rect x="800" y="260" width="20" height="20" fill="#dfdfdf"/><rect x="820" y="260" width="20" height="20" fill="#dfdfdf"/><rect x="-20" y="280" width="20" height="20" fill="#cacdd0"/><rect x="0" y="280" width="20" height="20" fill="#c9ccd0"/><rect x="20" y="280" width="20" height="20" fill="#c8cbcf"/><rect x="40" y="280" width="20" height="20" fill="#c9ccd0"/><rect x="60" y="280" width="20" height="20" fill="#cdcfd2"/><rect x="80" y="280" width="20" height="20" fill="#d0d2d4"/><rect x="100" y="280" width="20" height="20" fill="#d1d3d5"/><rect x="120" y="280" width="20" height="20" fill="#d3d4d6"/><rect x="140" y="280" width="20" height="20" fill="#d6d7d9"/><rect x="160" y="280" width="20" height="20" fill="#dadbdc"/><rect x="180" y="280" width="20" height="20" fill="#dfdfe0"/><rect x="200" y="280" width="20" height="20" fill="#e4e4e6"/><rect x="220" y="280" width="20" height="20" fill="#ebeaec"/><rect x="240" y="280" width="20" height="20" fill="#eeedf0"/><rect x="260" y="280" width="20" height="20" fill="#f0f0f1"/><rect x="280" y="280" width="20" height="20" fill="#f1f1f1"/><rect x="300" y="280" width="20" height="20" fill="#efefef"/><rect x="320" y="280" width="20" height="20" fill="#eeeeee"/><rect x="340" y="280" width="20" height="20" fill="#eeeeef"/><rect x="360" y="280" width="20" height="20" fill="#efeff0"/><rect x="380" y="280" width="20" height="20" fill="#f0f0f1"/><rect x="400" y="280" width="20" height="20" fill="#f1f1f1"/><rect x="420" y="280" width="20" height="20" fill="#f2f2f2"/><rect x="440" y="280" width="20" height="20" fill="#f2f3f3"/><rect x="460" y="280" width="20" height="20" fill="#f4f4f4"/><rect x="480" y="280" width="20" height="20" fill="#f6f6f6"/><rect x="500" y="280" width="20" height="20" fill="#f8f8f9"/><rect x="520" y="280" width="20" height="20" fill="#f8f8f8"/><rect x="540" y="280" width="20" height="20" fill="#f6f6f6"/><rect x="560" y="280" width="20" height="20" fill="#f1f1f1"/><rect x="580" y="280" width="20" height="20" fill="#ededed"/><rect x="600" y="280" width="20" height="20" fill="#eaeaea"/><rect x="620" y="280" width="20" height="20" fill="#e7e7e7"/><rect x="640" y="280" width="20" height="20" fill="#e5e5e5"/><rect x="660" y="280" width="20" height="20" fill="#e4e4e4"/><rect x="680" y="280" width="20" height="20" fill="#e2e3e3"/><rect x="700" y="280" width="20" height="20" fill="#e1e2e2"/><rect x="720" y="280" width="20" height="20" fill="#e0e0e0"/><rect x="740" y="280" width="20" height="20" fill="#dfdfdf"/><rect x="760" y="280" width="20" height="20" fill="#dedede"/><rect x="780" y="280" width="20" height="20" fill="#dedede"/><rect x="800" y="280" width="20" height="20" fill="#dedede"/><rect x="820" y="280" width="20" height="20" fill="#dedede"/><rect x="-20" y="300" width="20" height="20" fill="#cacdd0"/><rect x="0" y="300" width="20" height="20" fill="#c9ccd0"/><rect x="20" y="300" width="20" height="20" fill="#c8cbcf"/><rect x="40" y="300" width="20" height="20" fill="#c9ccd0"/><rect x="60" y="300" width="20" height="20" fill="#cdcfd2"/><rect x="80" y="300" width="20" height="20" fill="#d0d2d4"/><rect x="100" y="300" width="20" height="20" fill="#d3d4d6"/><rect x="120" y="300" width="20" height="20" fill="#d5d6d8"/><rect x="140" y="300" width="20" height="20" fill="#d8d8da"/><rect x="160" y="300" width="20" height="20" fill="#dadbdc"/><rect x="180" y="300" width="20" height="20" fill="#dddddf"/><rect x="200" y="300" width="20" height="20" fill="#e1e1e3"/><rect x="220" y="300" width="20" height="20" fill="#e8e8e9"/><rect x="240" y="300" width="20" height="20" fill="#edecee"/><rect x="260" y="300" width="20" height="20" fill="#f1f1f1"/><rect x="280" y="300" width="20" height="20" fill="#f1f1f1"/><rect x="300" y="300" width="20" height="20" fill="#efefef"/><rect x="320" y="300" width="20" height="20" fill="#eeeeef"/><rect x="340" y="300" width="20" height="20" fill="#f0f0f0"/><rect x="360" y="300" width="20" height="20" fill="#f2f2f2"/><rect x="380" y="300" width="20" height="20" fill="#f3f3f3"/><rect x="400" y="300" width="20" height="20" fill="#f3f3f3"/><rect x="420" y="300" width="20" height="20" fill="#f4f4f4"/><rect x="440" y="300" width="20" height="20" fill="#f4f4f4"/><rect x="460" y="300" width="20" height="20" fill="#f5f5f5"/><rect x="480" y="300" width="20" height="20" fill="#f6f6f6"/><rect x="500" y="300" width="20" height="20" fill="#f8f8f8"/><rect x="520" y="300" width="20" height="20" fill="#f8f8f8"/><rect x="540" y="300" width="20" height="20" fill="#f5f5f5"/><rect x="560" y="300" width="20" height="20" fill="#f1f1f1"/><rect x="580" y="300" width="20" height="20" fill="#ececec"/><rect x="600" y="300" width="20" height="20" fill="#e9e9e9"/><rect x="620" y="300" width="20" height="20" fill="#e6e7e7"/><rect x="640" y="300" width="20" height="20" fill="#e4e5e5"/><rect x="660" y="300" width="20" height="20" fill="#e3e3e3"/><rect x="680" y="300" width="20" height="20" fill="#e2e2e2"/><rect x="700" y="300" width="20" height="20" fill="#e1e1e1"/><rect x="720" y="300" width="20" height="20" fill="#e0e0e0"/><rect x="740" y="300" width="20" height="20" fill="#dfdfdf"/><rect x="760" y="300" width="20" height="20" fill="#dedede"/><rect x="780" y="300" width="20" height="20" fill="#dedede"/><rect x="800" y="300" width="20" height="20" fill="#dedede"/><rect x="820" y="300" width="20" height="20" fill="#dedede"/><rect x="-20" y="320" width="20" height="20" fill="#cbced1"/><rect x="0" y="320" width="20" height="20" fill="#cbced1"/><rect x="20" y="320" width="20" height="20" fill="#cacdd1"/><rect x="40" y="320" width="20" height="20" fill="#cbced1"/><rect x="60" y="320" width="20" height="20" fill="#ced0d3"/><rect x="80" y="320" width="20" height="20" fill="#d0d2d5"/><rect x="100" y="320" width="20" height="20" fill="#d3d5d6"/><rect x="120" y="320" width="20" height="20" fill="#d6d7d8"/><rect x="140" y="320" width="20" height="20" fill="#d8d9da"/><rect x="160" y="320" width="20" height="20" fill="#dadadb"/><rect x="180" y="320" width="20" height="20" fill="#dadadb"/><rect x="200" y="320" width="20" height="20" fill="#ddddde"/><rect x="220" y="320" width="20" height="20" fill="#e3e3e4"/><rect x="240" y="320" width="20" height="20" fill="#e9e9ea"/><rect x="260" y="320" width="20" height="20" fill="#ededee"/><rect x="280" y="320" width="20" height="20" fill="#eeeeee"/><rect x="300" y="320" width="20" height="20" fill="#eeeeee"/><rect x="320" y="320" width="20" height="20" fill="#efefef"/><rect x="340" y="320" width="20" height="20" fill="#f2f3f3"/><rect x="360" y="320" width="20" height="20" fill="#f6f6f6"/><rect x="380" y="320" width="20" height="20" fill="#f6f6f6"/><rect x="400" y="320" width="20" height="20" fill="#f5f5f5"/><rect x="420" y="320" width="20" height="20" fill="#f6f6f6"/><rect x="440" y="320" width="20" height="20" fill="#f7f7f7"/><rect x="460" y="320" width="20" height="20" fill="#f6f6f6"/><rect x="480" y="320" width="20" height="20" fill="#f5f5f5"/><rect x="500" y="320" width="20" height="20" fill="#f6f6f6"/><rect x="520" y="320" width="20" height="20" fill="#f5f5f5"/><rect x="540" y="320" width="20" height="20" fill="#f2f3f3"/><rect x="560" y="320" width="20" height="20" fill="#eeefef"/><rect x="580" y="320" width="20" height="20" fill="#ebebeb"/><rect x="600" y="320" width="20" height="20" fill="#e8e8e8"/><rect x="620" y="320" width="20" height="20" fill="#e5e6e6"/><rect x="640" y="320" width="20" height="20" fill="#e3e4e4"/><rect x="660" y="320" width="20" height="20" fill="#e2e2e2"/><rect x="680" y="320" width="20" height="20" fill="#e1e1e1"/><rect x="700" y="320" width="20" height="20" fill="#e1e1e1"/><rect x="720" y="320" width="20" height="20" fill="#e1e1e1"/><rect x="740" y="320" width="20" height="20" fill="#e0e0e0"/><rect x="760" y="320" width="20" height="20" fill="#dfdfdf"/><rect x="780" y="320" width="20" height="20" fill="#dfdfdf"/><rect x="800" y="320" width="20" height="20" fill="#dfdfdf"/><rect x="820" y="320" width="20" height="20" fill="#dfdfdf"/><rect x="-20" y="340" width="20" height="20" fill="#ccd0d2"/><rect x="0" y="340" width="20" height="20" fill="#ccd0d2"/><rect x="20" y="340" width="20" height="20" fill="#cdd0d3"/><rect x="40" y="340" width="20" height="20" fill="#cdd1d3"/><rect x="60" y="340" width="20" height="20" fill="#ced1d3"/><rect x="80" y="340" width="20" height="20" fill="#d0d2d4"/><rect x="100" y="340" width="20" height="20" fill="#d3d4d6"/><rect x="120" y="340" width="20" height="20" fill="#d5d6d8"/><rect x="140" y="340" width="20" height="20" fill="#d8d8d9"/><rect x="160" y="340" width="20" height="20" fill="#d9d9da"/><rect x="180" y="340" width="20" height="20" fill="#d9d9da"/><rect x="200" y="340" width="20" height="20" fill="#dadadb"/><rect x="220" y="340" width="20" height="20" fill="#dfdfe0"/><rect x="240" y="340" width="20" height="20" fill="#e4e4e5"/><rect x="260" y="340" width="20" height="20" fill="#e8e8e9"/><rect x="280" y="340" width="20" height="20" fill="#eaeaeb"/><rect x="300" y="340" width="20" height="20" fill="#ececec"/><rect x="320" y="340" width="20" height="20" fill="#efefef"/><rect x="340" y="340" width="20" height="20" fill="#f4f4f5"/><rect x="360" y="340" width="20" height="20" fill="#f9f9f9"/><rect x="380" y="340" width="20" height="20" fill="#f9f9f9"/><rect x="400" y="340" width="20" height="20" fill="#f6f6f6"/><rect x="420" y="340" width="20" height="20" fill="#f8f8f8"/><rect x="440" y="340" width="20" height="20" fill="#f9f9f9"/><rect x="460" y="340" width="20" height="20" fill="#f7f8f8"/><rect x="480" y="340" width="20" height="20" fill="#f4f4f4"/><rect x="500" y="340" width="20" height="20" fill="#f2f2f2"/><rect x="520" y="340" width="20" height="20" fill="#f1f1f1"/><rect x="540" y="340" width="20" height="20" fill="#efefef"/><rect x="560" y="340" width="20" height="20" fill="#ececec"/><rect x="580" y="340" width="20" height="20" fill="#e9e9e9"/><rect x="600" y="340" width="20" height="20" fill="#e6e7e7"/><rect x="620" y="340" width="20" height="20" fill="#e4e5e5"/><rect x="640" y="340" width="20" height="20" fill="#e3e3e3"/><rect x="660" y="340" width="20" height="20" fill="#e1e2e2"/><rect x="680" y="340" width="20" height="20" fill="#e0e0e0"/><rect x="700" y="340" width="20" height="20" fill="#e0e0e0"/><rect x="720" y="340" width="20" height="20" fill="#e1e1e1"/><rect x="740" y="340" width="20" height="20" fill="#e0e1e1"/><rect x="760" y="340" width="20" height="20" fill="#e0e0e0"/><rect x="780" y="340" width="20" height="20" fill="#e0e0e0"/><rect x="800" y="340" width="20" height="20" fill="#e0e0e0"/><rect x="820" y="340" width="20" height="20" fill="#e0e0e0"/><rect x="-20" y="360" width="20" height="20" fill="#ccd0d2"/><rect x="0" y="360" width="20" height="20" fill="#cdd1d3"/><rect x="20" y="360" width="20" height="20" fill="#cdd2d4"/><rect x="40" y="360" width="20" height="20" fill="#cdd1d3"/><rect x="60" y="360" width="20" height="20" fill="#ced1d3"/><rect x="80" y="360" width="20" height="20" fill="#d0d2d3"/><rect x="100" y="360" width="20" height="20" fill="#d2d3d4"/><rect x="120" y="360" width="20" height="20" fill="#d4d5d6"/><rect x="140" y="360" width="20" height="20" fill="#d7d7d8"/><rect x="160" y="360" width="20" height="20" fill="#d9d9da"/><rect x="180" y="360" width="20" height="20" fill="#d9d9da"/><rect x="200" y="360" width="20" height="20" fill="#dadadb"/><rect x="220" y="360" width="20" height="20" fill="#ddddde"/><rect x="240" y="360" width="20" height="20" fill="#e1e1e2"/><rect x="260" y="360" width="20" height="20" fill="#e4e4e5"/><rect x="280" y="360" width="20" height="20" fill="#e7e7e7"/><rect x="300" y="360" width="20" height="20" fill="#e9e9ea"/><rect x="320" y="360" width="20" height="20" fill="#ededee"/><rect x="340" y="360" width="20" height="20" fill="#f3f3f3"/><rect x="360" y="360" width="20" height="20" fill="#f7f7f7"/><rect x="380" y="360" width="20" height="20" fill="#f8f8f8"/><rect x="400" y="360" width="20" height="20" fill="#f5f5f6"/><rect x="420" y="360" width="20" height="20" fill="#f7f7f7"/><rect x="440" y="360" width="20" height="20" fill="#f8f8f8"/><rect x="460" y="360" width="20" height="20" fill="#f6f6f6"/><rect x="480" y="360" width="20" height="20" fill="#f2f2f2"/><rect x="500" y="360" width="20" height="20" fill="#efeff0"/><rect x="520" y="360" width="20" height="20" fill="#edeeee"/><rect x="540" y="360" width="20" height="20" fill="#ebecec"/><rect x="560" y="360" width="20" height="20" fill="#e9e9ea"/><rect x="580" y="360" width="20" height="20" fill="#e7e7e7"/><rect x="600" y="360" width="20" height="20" fill="#e5e5e6"/><rect x="620" y="360" width="20" height="20" fill="#e3e4e4"/><rect x="640" y="360" width="20" height="20" fill="#e2e3e3"/><rect x="660" y="360" width="20" height="20" fill="#e2e2e2"/><rect x="680" y="360" width="20" height="20" fill="#e0e0e0"/><rect x="700" y="360" width="20" height="20" fill="#e0e0e0"/><rect x="720" y="360" width="20" height="20" fill="#e1e1e1"/><rect x="740" y="360" width="20" height="20" fill="#e1e1e1"/><rect x="760" y="360" width="20" height="20" fill="#e1e1e1"/><rect x="780" y="360" width="20" height="20" fill="#e1e1e1"/><rect x="800" y="360" width="20" height="20" fill="#e1e1e1"/><rect x="820" y="360" width="20" height="20" fill="#e1e1e1"/><rect x="-20" y="380" width="20" height="20" fill="#cbced0"/><rect x="0" y="380" width="20" height="20" fill="#ccd0d2"/><rect x="20" y="380" width="20" height="20" fill="#cdd2d4"/><rect x="40" y="380" width="20" height="20" fill="#cdd1d3"/><rect x="60" y="380" width="20" height="20" fill="#cdd0d2"/><rect x="80" y="380" width="20" height="20" fill="#ced0d1"/><rect x="100" y="380" width="20" height="20" fill="#cfd0d1"/><rect x="120" y="380" width="20" height="20" fill="#d1d2d2"/><rect x="140" y="380" width="20" height="20" fill="#d4d4d5"/><rect x="160" y="380" width="20" height="20" fill="#d6d7d7"/><rect x="180" y="380" width="20" height="20" fill="#d8d8d8"/><rect x="200" y="380" width="20" height="20" fill="#d9d9d9"/><rect x="220" y="380" width="20" height="20" fill="#dbdbdc"/><rect x="240" y="380" width="20" height="20" fill="#dedfdf"/><rect x="260" y="380" width="20" height="20" fill="#e1e2e2"/><rect x="280" y="380" width="20" height="20" fill="#e4e4e4"/><rect x="300" y="380" width="20" height="20" fill="#e6e7e7"/><rect x="320" y="380" width="20" height="20" fill="#eaeaeb"/><rect x="340" y="380" width="20" height="20" fill="#efefef"/><rect x="360" y="380" width="20" height="20" fill="#f2f2f2"/><rect x="380" y="380" width="20" height="20" fill="#f2f2f3"/><rect x="400" y="380" width="20" height="20" fill="#f2f2f2"/><rect x="420" y="380" width="20" height="20" fill="#f3f3f3"/><rect x="440" y="380" width="20" height="20" fill="#f4f4f4"/><rect x="460" y="380" width="20" height="20" fill="#f2f2f2"/><rect x="480" y="380" width="20" height="20" fill="#efefef"/><rect x="500" y="380" width="20" height="20" fill="#ededed"/><rect x="520" y="380" width="20" height="20" fill="#ebebeb"/><rect x="540" y="380" width="20" height="20" fill="#e9e9e9"/><rect x="560" y="380" width="20" height="20" fill="#e8e8e8"/><rect x="580" y="380" width="20" height="20" fill="#e6e6e6"/><rect x="600" y="380" width="20" height="20" fill="#e4e5e5"/><rect x="620" y="380" width="20" height="20" fill="#e3e3e3"/><rect x="640" y="380" width="20" height="20" fill="#e2e3e3"/><rect x="660" y="380" width="20" height="20" fill="#e2e3e3"/><rect x="680" y="380" width="20" height="20" fill="#e1e2e2"/><rect x="700" y="380" width="20" height="20" fill="#e1e1e1"/><rect x="720" y="380" width="20" height="20" fill="#e1e1e1"/><rect x="740" y="380" width="20" height="20" fill="#e1e2e2"/><rect x="760" y="380" width="20" height="20" fill="#e1e2e2"/><rect x="780" y="380" width="20" height="20" fill="#e1e2e2"/><rect x="800" y="380" width="20" height="20" fill="#e1e2e2"/><rect x="820" y="380" width="20" height="20" fill="#e1e2e2"/><rect x="-20" y="400" width="20" height="20" fill="#c6c8ca"/><rect x="0" y="400" width="20" height="20" fill="#c6c8ca"/><rect x="20" y="400" width="20" height="20" fill="#c9ccce"/><rect x="40" y="400" width="20" height="20" fill="#cbced0"/><rect x="60" y="400" width="20" height="20" fill="#cccfd0"/><rect x="80" y="400" width="20" height="20" fill="#cccdce"/><rect x="100" y="400" width="20" height="20" fill="#cbcccc"/><rect x="120" y="400" width="20" height="20" fill="#cccdcd"/><rect x="140" y="400" width="20" height="20" fill="#d0d0d1"/><rect x="160" y="400" width="20" height="20" fill="#d3d4d4"/><rect x="180" y="400" width="20" height="20" fill="#d4d4d4"/><rect x="200" y="400" width="20" height="20" fill="#d5d5d5"/><rect x="220" y="400" width="20" height="20" fill="#d8d8d9"/><rect x="240" y="400" width="20" height="20" fill="#dddddd"/><rect x="260" y="400" width="20" height="20" fill="#e0e0e0"/><rect x="280" y="400" width="20" height="20" fill="#e1e1e1"/><rect x="300" y="400" width="20" height="20" fill="#e3e3e3"/><rect x="320" y="400" width="20" height="20" fill="#e7e7e8"/><rect x="340" y="400" width="20" height="20" fill="#ebebeb"/><rect x="360" y="400" width="20" height="20" fill="#ececec"/><rect x="380" y="400" width="20" height="20" fill="#ededed"/><rect x="400" y="400" width="20" height="20" fill="#eeeeee"/><rect x="420" y="400" width="20" height="20" fill="#efefef"/><rect x="440" y="400" width="20" height="20" fill="#efefef"/><rect x="460" y="400" width="20" height="20" fill="#eeeeee"/><rect x="480" y="400" width="20" height="20" fill="#ececec"/><rect x="500" y="400" width="20" height="20" fill="#ececec"/><rect x="520" y="400" width="20" height="20" fill="#eaeaea"/><rect x="540" y="400" width="20" height="20" fill="#e8e8e8"/><rect x="560" y="400" width="20" height="20" fill="#e6e7e7"/><rect x="580" y="400" width="20" height="20" fill="#e5e5e5"/><rect x="600" y="400" width="20" height="20" fill="#e3e4e4"/><rect x="620" y="400" width="20" height="20" fill="#e3e3e3"/><rect x="640" y="400" width="20" height="20" fill="#e2e3e3"/><rect x="660" y="400" width="20" height="20" fill="#e2e3e3"/><rect x="680" y="400" width="20" height="20" fill="#e2e3e3"/><rect x="700" y="400" width="20" height="20" fill="#e2e2e2"/><rect x="720" y="400" width="20" height="20" fill="#e2e2e2"/><rect x="740" y="400" width="20" height="20" fill="#e2e2e2"/><rect x="760" y="400" width="20" height="20" fill="#e2e2e2"/><rect x="780" y="400" width="20" height="20" fill="#e2e2e2"/><rect x="800" y="400" width="20" height="20" fill="#e2e2e2"/><rect x="820" y="400" width="20" height="20" fill="#e2e2e2"/><rect x="-20" y="420" width="20" height="20" fill="#c4c5c7"/><rect x="0" y="420" width="20" height="20" fill="#c4c5c7"/><rect x="20" y="420" width="20" height="20" fill="#c6c7c9"/><rect x="40" y="420" width="20" height="20" fill="#c9cbcd"/><rect x="60" y="420" width="20" height="20" fill="#cbcdce"/><rect x="80" y="420" width="20" height="20" fill="#cacbcb"/><rect x="100" y="420" width="20" height="20" fill="#c9c9c9"/><rect x="120" y="420" width="20" height="20" fill="#c9c9c9"/><rect x="140" y="420" width="20" height="20" fill="#cdcdce"/><rect x="160" y="420" width="20" height="20" fill="#d2d2d2"/><rect x="180" y="420" width="20" height="20" fill="#d2d2d2"/><rect x="200" y="420" width="20" height="20" fill="#d2d2d2"/><rect x="220" y="420" width="20" height="20" fill="#d6d6d6"/><rect x="240" y="420" width="20" height="20" fill="#dcdcdd"/><rect x="260" y="420" width="20" height="20" fill="#e0e0e0"/><rect x="280" y="420" width="20" height="20" fill="#e0e0e0"/><rect x="300" y="420" width="20" height="20" fill="#e1e1e1"/><rect x="320" y="420" width="20" height="20" fill="#e5e5e6"/><rect x="340" y="420" width="20" height="20" fill="#eaeaea"/><rect x="360" y="420" width="20" height="20" fill="#ebebeb"/><rect x="380" y="420" width="20" height="20" fill="#ebebeb"/><rect x="400" y="420" width="20" height="20" fill="#ececec"/><rect x="420" y="420" width="20" height="20" fill="#ededed"/><rect x="440" y="420" width="20" height="20" fill="#ededed"/><rect x="460" y="420" width="20" height="20" fill="#ececec"/><rect x="480" y="420" width="20" height="20" fill="#ececec"/><rect x="500" y="420" width="20" height="20" fill="#ececec"/><rect x="520" y="420" width="20" height="20" fill="#e9e9e9"/><rect x="540" y="420" width="20" height="20" fill="#e6e6e6"/><rect x="560" y="420" width="20" height="20" fill="#e6e6e6"/><rect x="580" y="420" width="20" height="20" fill="#e5e5e5"/><rect x="600" y="420" width="20" height="20" fill="#e2e2e2"/><rect x="620" y="420" width="20" height="20" fill="#e2e2e2"/><rect x="640" y="420" width="20" height="20" fill="#e2e3e3"/><rect x="660" y="420" width="20" height="20" fill="#e2e3e3"/><rect x="680" y="420" width="20" height="20" fill="#e2e3e3"/><rect x="700" y="420" width="20" height="20" fill="#e2e3e3"/><rect x="720" y="420" width="20" height="20" fill="#e2e3e3"/><rect x="740" y="420" width="20" height="20" fill="#e2e3e3"/><rect x="760" y="420" width="20" height="20" fill="#e2e3e3"/><rect x="780" y="420" width="20" height="20" fill="#e2e3e3"/><rect x="800" y="420" width="20" height="20" fill="#e2e3e3"/><rect x="820" y="420" width="20" height="20" fill="#e2e3e3"/><rect x="-20" y="440" width="20" height="20" fill="#c5c6c8"/><rect x="0" y="440" width="20" height="20" fill="#c5c6c8"/><rect x="20" y="440" width="20" height="20" fill="#c6c8ca"/><rect x="40" y="440" width="20" height="20" fill="#c9cbcc"/><rect x="60" y="440" width="20" height="20" fill="#cbcccd"/><rect x="80" y="440" width="20" height="20" fill="#cacbcb"/><rect x="100" y="440" width="20" height="20" fill="#c8c9c9"/><rect x="120" y="440" width="20" height="20" fill="#c9c9c9"/><rect x="140" y="440" width="20" height="20" fill="#cdcdcd"/><rect x="160" y="440" width="20" height="20" fill="#d2d2d2"/><rect x="180" y="440" width="20" height="20" fill="#d2d2d3"/><rect x="200" y="440" width="20" height="20" fill="#d3d3d3"/><rect x="220" y="440" width="20" height="20" fill="#d6d6d7"/><rect x="240" y="440" width="20" height="20" fill="#dcdcdd"/><rect x="260" y="440" width="20" height="20" fill="#e0e0e0"/><rect x="280" y="440" width="20" height="20" fill="#e0e0e0"/><rect x="300" y="440" width="20" height="20" fill="#e1e1e1"/><rect x="320" y="440" width="20" height="20" fill="#e5e5e5"/><rect x="340" y="440" width="20" height="20" fill="#e9e9e9"/><rect x="360" y="440" width="20" height="20" fill="#ebebeb"/><rect x="380" y="440" width="20" height="20" fill="#ebebeb"/><rect x="400" y="440" width="20" height="20" fill="#ebebeb"/><rect x="420" y="440" width="20" height="20" fill="#ececec"/><rect x="440" y="440" width="20" height="20" fill="#ececec"/><rect x="460" y="440" width="20" height="20" fill="#ececec"/><rect x="480" y="440" width="20" height="20" fill="#ececec"/><rect x="500" y="440" width="20" height="20" fill="#ebebeb"/><rect x="520" y="440" width="20" height="20" fill="#e9e9e9"/><rect x="540" y="440" width="20" height="20" fill="#e6e6e6"/><rect x="560" y="440" width="20" height="20" fill="#e6e6e6"/><rect x="580" y="440" width="20" height="20" fill="#e4e5e5"/><rect x="600" y="440" width="20" height="20" fill="#e2e2e2"/><rect x="620" y="440" width="20" height="20" fill="#e2e2e2"/><rect x="640" y="440" width="20" height="20" fill="#e3e3e3"/><rect x="660" y="440" width="20" height="20" fill="#e3e3e3"/><rect x="680" y="440" width="20" height="20" fill="#e3e3e3"/><rect x="700" y="440" width="20" height="20" fill="#e3e3e3"/><rect x="720" y="440" width="20" height="20" fill="#e3e3e3"/><rect x="740" y="440" width="20" height="20" fill="#e3e3e3"/><rect x="760" y="440" width="20" height="20" fill="#e3e3e3"/><rect x="780" y="440" width="20" height="20" fill="#e3e3e3"/><rect x="800" y="440" width="20" height="20" fill="#e3e3e3"/><rect x="820" y="440" width="20" height="20" fill="#e3e3e3"/><rect x="-20" y="460" width="20" height="20" fill="#c5c6c8"/><rect x="0" y="460" width="20" height="20" fill="#c5c6c8"/><rect x="20" y="460" width="20" height="20" fill="#c6c8ca"/><rect x="40" y="460" width="20" height="20" fill="#c9cbcc"/><rect x="60" y="460" width="20" height="20" fill="#cbcccd"/><rect x="80" y="460" width="20" height="20" fill="#cacbcb"/><rect x="100" y="460" width="20" height="20" fill="#c8c9c9"/><rect x="120" y="460" width="20" height="20" fill="#c9c9c9"/><rect x="140" y="460" width="20" height="20" fill="#cdcdcd"/><rect x="160" y="460" width="20" height="20" fill="#d2d2d2"/><rect x="180" y="460" width="20" height="20" fill="#d2d2d3"/><rect x="200" y="460" width="20" height="20" fill="#d3d3d3"/><rect x="220" y="460" width="20" height="20" fill="#d6d6d7"/><rect x="240" y="460" width="20" height="20" fill="#dcdcdd"/><rect x="260" y="460" width="20" height="20" fill="#e0e0e0"/><rect x="280" y="460" width="20" height="20" fill="#e0e0e0"/><rect x="300" y="460" width="20" height="20" fill="#e1e1e1"/><rect x="320" y="460" width="20" height="20" fill="#e5e5e5"/><rect x="340" y="460" width="20" height="20" fill="#e9e9e9"/><rect x="360" y="460" width="20" height="20" fill="#ebebeb"/><rect x="380" y="460" width="20" height="20" fill="#ebebeb"/><rect x="400" y="460" width="20" height="20" fill="#ebebeb"/><rect x="420" y="460" width="20" height="20" fill="#ececec"/><rect x="440" y="460" width="20" height="20" fill="#ececec"/><rect x="460" y="460" width="20" height="20" fill="#ececec"/><rect x="480" y="460" width="20" height="20" fill="#ececec"/><rect x="500" y="460" width="20" height="20" fill="#ebebeb"/><rect x="520" y="460" width="20" height="20" fill="#e9e9e9"/><rect x="540" y="460" width="20" height="20" fill="#e6e6e6"/><rect x="560" y="460" width="20" height="20" fill="#e6e6e6"/><rect x="580" y="460" width="20" height="20" fill="#e4e5e5"/><rect x="600" y="460" width="20" height="20" fill="#e2e2e2"/><rect x="620" y="460" width="20" height="20" fill="#e2e2e2"/><rect x="640" y="460" width="20" height="20" fill="#e3e3e3"/><rect x="660" y="460" width="20" height="20" fill="#e3e3e3"/><rect x="680" y="460" width="20" height="20" fill="#e3e3e3"/><rect x="700" y="460" width="20" height="20" fill="#e3e3e3"/><rect x="720" y="460" width="20" height="20" fill="#e3e3e3"/><rect x="740" y="460" width="20" height="20" fill="#e3e3e3"/><rect x="760" y="460" width="20" height="20" fill="#e3e3e3"/><rect x="780" y="460" width="20" height="20" fill="#e3e3e3"/><rect x="800" y="460" width="20" height="20" fill="#e3e3e3"/><rect x="820" y="460" width="20" height="20" fill="#e3e3e3"/></g>
<g stroke="#ffffff" stroke-opacity="0.45" stroke-width="0.9" fill="none">
<line x1="100" y1="54" x2="-2" y2="178"/>
<line x1="0" y1="88" x2="150" y2="160"/>
<line x1="0" y1="101" x2="280" y2="104"/>
<line x1="70" y1="172" x2="275" y2="86"/>
<line x1="110" y1="168" x2="275" y2="145"/>
<line x1="0" y1="330" x2="75" y2="215" stroke-opacity="0.2"/>
</g>
<linearGradient id="lr" x1="0" y1="0" x2="60" y2="0" gradientUnits="userSpaceOnUse"><stop offset="0" stop-color="#fff" stop-opacity="0.08"/><stop offset="0.8" stop-color="#fff" stop-opacity="0.06"/><stop offset="1" stop-color="#fff" stop-opacity="0"/></linearGradient><rect x="0" y="300" width="60" height="92" fill="url(#lr)"/>
<line x1="0" y1="402" x2="240" y2="402" stroke="#ffffff" stroke-opacity="0.25" stroke-width="1"/>

<rect x="0" y="0" width="800" height="51.5" fill="#163d7c"/>
<rect x="0" y="50" width="800" height="1.5" fill="#112f6a"/>
<rect x="0" y="51.4" width="800" height="2.6" fill="#e8773f"/>
<defs>
<pattern id="hd" x="0" y="0" width="11" height="11" patternUnits="userSpaceOnUse">
<circle cx="4.5" cy="2.5" r="1.6" fill="#0c2d68"/><circle cx="10" cy="8" r="1.6" fill="#0c2d68"/>
</pattern>
<linearGradient id="hdg" x1="0" y1="0" x2="800" y2="0" gradientUnits="userSpaceOnUse">
<stop offset="0" stop-color="#fff" stop-opacity="0.45"/>
<stop offset="0.15" stop-color="#fff" stop-opacity="0"/>
<stop offset="0.78" stop-color="#fff" stop-opacity="0"/>
<stop offset="1" stop-color="#fff" stop-opacity="0.2"/>
</linearGradient>
<mask id="hdm"><rect x="0" y="0" width="800" height="50" fill="url(#hdg)"/></mask>
</defs>
<rect x="0" y="0" width="800" height="50" fill="url(#hd)" mask="url(#hdm)"/>

<defs>
<pattern id="dp" x="0" y="0" width="14" height="14" patternUnits="userSpaceOnUse">
<circle cx="3.5" cy="3.5" r="2.3" fill="#000" fill-opacity="0.05"/><circle cx="10.5" cy="10.5" r="2.3" fill="#000" fill-opacity="0.05"/>
</pattern>
<radialGradient id="dg" cx="800" cy="450" r="190" gradientUnits="userSpaceOnUse">
<stop offset="0" stop-color="#ffffff"/>
<stop offset="0.5" stop-color="#808080"/>
<stop offset="1" stop-color="#000000"/>
</radialGradient>
<mask id="dm" maskUnits="userSpaceOnUse" x="0" y="0" width="800" height="450"><rect x="0" y="0" width="800" height="450" fill="url(#dg)"/></mask>
</defs>
<rect x="560" y="230" width="240" height="220" fill="url(#dp)" mask="url(#dm)"/>

<line x1="268.8" y1="92.3" x2="268.8" y2="356" stroke="#393d66" stroke-width="1.7" stroke-dasharray="4.2 4.16"/>
<line x1="529.8" y1="92.3" x2="529.8" y2="356" stroke="#393d66" stroke-width="1.7" stroke-dasharray="4.2 4.16"/>
<rect x="51.3" y="208.4" width="55.40" height="138.80" fill="#ffffff" fill-opacity="0.45"/>
<rect x="52.5" y="209.6" width="53.00" height="136.40" fill="#021f5f"/>
<rect x="126.5" y="258.6" width="55.20" height="88.60" fill="#ffffff" fill-opacity="0.45"/>
<rect x="127.7" y="259.8" width="52.80" height="86.20" fill="#70309c"/>
<rect x="196.10000000000002" y="248.0" width="54.90" height="99.20" fill="#ffffff" fill-opacity="0.45"/>
<rect x="197.3" y="249.2" width="52.50" height="96.80" fill="#9b9cfe"/>
<rect x="298.1" y="208.9" width="55.10" height="138.30" fill="#ffffff" fill-opacity="0.45"/>
<rect x="299.3" y="210.1" width="52.70" height="135.90" fill="#021f5f"/>
<rect x="373.1" y="242.70000000000002" width="55.30" height="104.50" fill="#ffffff" fill-opacity="0.45"/>
<rect x="374.3" y="243.9" width="52.90" height="102.10" fill="#70309c"/>
<rect x="442.7" y="255.90000000000003" width="55.00" height="91.30" fill="#ffffff" fill-opacity="0.45"/>
<rect x="443.9" y="257.1" width="52.60" height="88.90" fill="#5a5a5b"/>
<rect x="547.6999999999999" y="183.70000000000002" width="55.30" height="163.50" fill="#ffffff" fill-opacity="0.45"/>
<rect x="548.9" y="184.9" width="52.90" height="161.10" fill="#021f5f"/>
<rect x="622.6999999999999" y="246.9" width="55.30" height="100.30" fill="#ffffff" fill-opacity="0.45"/>
<rect x="623.9" y="248.1" width="52.90" height="97.90" fill="#9b9cfe"/>
<rect x="692.4" y="252.60000000000002" width="55.30" height="94.60" fill="#ffffff" fill-opacity="0.45"/>
<rect x="693.6" y="253.8" width="52.90" height="92.20" fill="#70309c"/>
<rect x="291.8" y="367.40000000000003" width="69.80" height="25.20" fill="#ffffff" fill-opacity="0.45"/>
<rect x="293" y="368.6" width="67.40" height="22.80" fill="#021f5f"/>
<rect x="291.8" y="402.8" width="69.80" height="25.20" fill="#ffffff" fill-opacity="0.45"/>
<rect x="293" y="404" width="67.40" height="22.80" fill="#9b9cfe"/>
<rect x="588.8" y="367.1" width="69.40" height="25.50" fill="#ffffff" fill-opacity="0.45"/>
<rect x="590" y="368.3" width="67.00" height="23.10" fill="#70309c"/>
<rect x="588.8" y="402.8" width="69.40" height="25.20" fill="#ffffff" fill-opacity="0.45"/>
<rect x="590" y="404" width="67.00" height="22.80" fill="#5a5a5b"/>
<text transform="translate(310.02,43.50) scale(1.0999,1)" font-size="23" font-weight="normal" fill="#ffffff">Κριτήριο Ψήφου</text>
<text transform="translate(89.64,101.62) scale(1.0502,1)" font-size="17.2" font-weight="bold" fill="#132f6b" stroke="#132f6b" stroke-width="0.714" stroke-linejoin="round">Θα ψήφιζα</text>
<text transform="translate(76.17,119.72) scale(1.0047,1)" font-size="17.2" font-weight="bold" fill="#132f6b" stroke="#132f6b" stroke-width="0.746" stroke-linejoin="round">κόμμα Τσίπρα</text>
<text transform="translate(353.24,101.62) scale(1.0479,1)" font-size="17.2" font-weight="bold" fill="#132f6b" stroke="#132f6b" stroke-width="0.716" stroke-linejoin="round">Θα ψήφιζα</text>
<text transform="translate(336.10,119.72) scale(1.0585,1)" font-size="17.2" font-weight="bold" fill="#132f6b" stroke="#132f6b" stroke-width="0.709" stroke-linejoin="round">κόμμα Σαμαρά</text>
<text transform="translate(615.14,101.62) scale(1.0561,1)" font-size="17.2" font-weight="bold" fill="#132f6b" stroke="#132f6b" stroke-width="0.710" stroke-linejoin="round">Θα ψήφιζα</text>
<text transform="translate(576.12,119.72) scale(1.0463,1)" font-size="17.2" font-weight="bold" fill="#132f6b" stroke="#132f6b" stroke-width="0.717" stroke-linejoin="round">κόμμα Καρυστιανού</text>
<text transform="translate(62.47,376.48) scale(1.0636,1)" font-size="13.4" font-weight="bold" fill="#132f6b" stroke="#132f6b" stroke-width="0.611" stroke-linejoin="round">Να δω αποτέλεσμα στη ζωή μου/</text>
<text transform="translate(109.29,390.88) scale(1.0765,1)" font-size="13.4" font-weight="bold" fill="#132f6b" stroke="#132f6b" stroke-width="0.604" stroke-linejoin="round">στην καθημερινότητα μου</text>
<text transform="translate(88.60,418.88) scale(1.1594,1)" font-size="13.4" font-weight="bold" fill="#132f6b" stroke="#132f6b" stroke-width="0.561" stroke-linejoin="round">Να αισθάνομαι δικαιοσύνη</text>
<text transform="translate(464.77,376.18) scale(1.0698,1)" font-size="13.4" font-weight="bold" fill="#132f6b" stroke="#132f6b" stroke-width="0.608" stroke-linejoin="round">Να εμπιστεύομαι</text>
<text transform="translate(408.92,390.68) scale(1.0545,1)" font-size="13.4" font-weight="bold" fill="#132f6b" stroke="#132f6b" stroke-width="0.616" stroke-linejoin="round">τον αρχηγό του κόμματος</text>
<text transform="translate(400.44,418.88) scale(1.1044,1)" font-size="13.4" font-weight="bold" fill="#132f6b" stroke="#132f6b" stroke-width="0.589" stroke-linejoin="round">Να πάει η χώρα μπροστά</text>
<text transform="translate(57.58,202.40) scale(0.9238,1)" font-size="24.4" font-weight="bold" fill="#15367a" stroke="#15367a" stroke-width="0.866" stroke-linejoin="round">2</text>
<text transform="translate(70.75,202.40) scale(0.9508,1)" font-size="24.4" font-weight="bold" fill="#15367a" stroke="#15367a" stroke-width="0.841" stroke-linejoin="round">8</text>
<g fill="none" stroke="#15367a"><circle cx="89.35" cy="188.44" r="3.2" stroke-width="2.5"/><circle cx="100.25" cy="197.64" r="3.2" stroke-width="2.5"/><line x1="87.75" y1="201.67" x2="101.55" y2="184.65" stroke-width="2.4"/></g>
<path d="M131.30,229.00 H135.00 V247.30 H131.30 V234.30 L126.20,236.40 L125.80,233.00 Z" fill="#15367a"/>
<text transform="translate(136.44,247.20) scale(0.9815,1)" font-size="24.4" font-weight="bold" fill="#15367a" stroke="#15367a" stroke-width="0.815" stroke-linejoin="round">7</text>
<text transform="translate(146.73,247.20) scale(0.9415,1)" font-size="24.4" font-weight="bold" fill="#15367a" stroke="#15367a" stroke-width="0.850" stroke-linejoin="round">,</text>
<text transform="translate(153.14,247.20) scale(0.9815,1)" font-size="24.4" font-weight="bold" fill="#15367a" stroke="#15367a" stroke-width="0.815" stroke-linejoin="round">7</text>
<g fill="none" stroke="#15367a"><circle cx="171.97" cy="233.24" r="3.2" stroke-width="2.5"/><circle cx="182.44" cy="242.44" r="3.2" stroke-width="2.5"/><line x1="170.43" y1="246.47" x2="183.69" y2="229.45" stroke-width="2.4"/></g>
<path d="M199.50,220.10 H203.20 V238.40 H199.50 V225.40 L194.00,227.50 L193.60,224.10 Z" fill="#15367a"/>
<text transform="translate(205.02,238.30) scale(0.9994,1)" font-size="24.4" font-weight="bold" fill="#15367a" stroke="#15367a" stroke-width="0.800" stroke-linejoin="round">9</text>
<text transform="translate(217.66,238.30) scale(0.8584,1)" font-size="24.4" font-weight="bold" fill="#15367a" stroke="#15367a" stroke-width="0.932" stroke-linejoin="round">,</text>
<text transform="translate(223.79,238.30) scale(1.0414,1)" font-size="24.4" font-weight="bold" fill="#15367a" stroke="#15367a" stroke-width="0.768" stroke-linejoin="round">9</text>
<g fill="none" stroke="#15367a"><circle cx="243.61" cy="224.34" r="3.2" stroke-width="2.5"/><circle cx="254.19" cy="233.54" r="3.2" stroke-width="2.5"/><line x1="242.06" y1="237.57" x2="255.45" y2="220.55" stroke-width="2.4"/></g>
<text transform="translate(293.85,199.70) scale(0.9574,1)" font-size="24.4" font-weight="bold" fill="#15367a" stroke="#15367a" stroke-width="0.836" stroke-linejoin="round">2</text>
<text transform="translate(307.17,199.70) scale(0.9557,1)" font-size="24.4" font-weight="bold" fill="#15367a" stroke="#15367a" stroke-width="0.837" stroke-linejoin="round">7</text>
<text transform="translate(317.50,199.70) scale(0.8307,1)" font-size="24.4" font-weight="bold" fill="#15367a" stroke="#15367a" stroke-width="0.963" stroke-linejoin="round">,</text>
<text transform="translate(323.99,199.70) scale(1.0330,1)" font-size="24.4" font-weight="bold" fill="#15367a" stroke="#15367a" stroke-width="0.774" stroke-linejoin="round">9</text>
<g fill="none" stroke="#15367a"><circle cx="343.62" cy="185.74" r="3.2" stroke-width="2.5"/><circle cx="353.98" cy="194.94" r="3.2" stroke-width="2.5"/><line x1="342.09" y1="198.97" x2="355.22" y2="181.95" stroke-width="2.4"/></g>
<text transform="translate(377.47,236.40) scale(0.9322,1)" font-size="24.4" font-weight="bold" fill="#15367a" stroke="#15367a" stroke-width="0.858" stroke-linejoin="round">2</text>
<path d="M396.30,218.20 H400.00 V236.50 H396.30 V223.50 L391.30,225.60 L390.90,222.20 Z" fill="#15367a"/>
<g fill="none" stroke="#15367a"><circle cx="406.75" cy="222.44" r="3.2" stroke-width="2.5"/><circle cx="418.14" cy="231.64" r="3.2" stroke-width="2.5"/><line x1="405.08" y1="235.67" x2="419.50" y2="218.65" stroke-width="2.4"/></g>
<path d="M443.10,230.60 H446.80 V248.90 H443.10 V235.90 L437.60,238.00 L437.20,234.60 Z" fill="#15367a"/>
<text transform="translate(449.11,248.80) scale(1.0164,1)" font-size="24.4" font-weight="bold" fill="#15367a" stroke="#15367a" stroke-width="0.787" stroke-linejoin="round">8</text>
<text transform="translate(462.02,248.80) scale(0.8861,1)" font-size="24.4" font-weight="bold" fill="#15367a" stroke="#15367a" stroke-width="0.903" stroke-linejoin="round">,</text>
<text transform="translate(468.62,248.80) scale(0.9754,1)" font-size="24.4" font-weight="bold" fill="#15367a" stroke="#15367a" stroke-width="0.820" stroke-linejoin="round">3</text>
<g fill="none" stroke="#15367a"><circle cx="488.31" cy="234.84" r="3.2" stroke-width="2.5"/><circle cx="498.40" cy="244.04" r="3.2" stroke-width="2.5"/><line x1="486.82" y1="248.07" x2="499.60" y2="231.05" stroke-width="2.4"/></g>
<text transform="translate(544.12,174.40) scale(0.9754,1)" font-size="24.4" font-weight="bold" fill="#15367a" stroke="#15367a" stroke-width="0.820" stroke-linejoin="round">3</text>
<text transform="translate(558.14,174.40) scale(0.9344,1)" font-size="24.4" font-weight="bold" fill="#15367a" stroke="#15367a" stroke-width="0.856" stroke-linejoin="round">3</text>
<text transform="translate(569.96,174.40) scale(0.8584,1)" font-size="24.4" font-weight="bold" fill="#15367a" stroke="#15367a" stroke-width="0.932" stroke-linejoin="round">,</text>
<path d="M581.20,156.20 H584.90 V174.50 H581.20 V161.50 L576.10,163.60 L575.70,160.20 Z" fill="#15367a"/>
<g fill="none" stroke="#15367a"><circle cx="591.51" cy="160.44" r="3.2" stroke-width="2.5"/><circle cx="602.09" cy="169.64" r="3.2" stroke-width="2.5"/><line x1="589.96" y1="173.67" x2="603.35" y2="156.65" stroke-width="2.4"/></g>
<text transform="translate(619.28,237.70) scale(0.9238,1)" font-size="24.4" font-weight="bold" fill="#15367a" stroke="#15367a" stroke-width="0.866" stroke-linejoin="round">2</text>
<text transform="translate(632.21,237.70) scale(1.0161,1)" font-size="24.4" font-weight="bold" fill="#15367a" stroke="#15367a" stroke-width="0.787" stroke-linejoin="round">0</text>
<text transform="translate(645.53,237.70) scale(0.7477,1)" font-size="24.4" font-weight="bold" fill="#15367a" stroke="#15367a" stroke-width="1.070" stroke-linejoin="round">,</text>
<path d="M656.60,219.50 H660.30 V237.80 H656.60 V224.80 L652.00,226.90 L651.60,223.50 Z" fill="#15367a"/>
<g fill="none" stroke="#15367a"><circle cx="667.49" cy="223.74" r="3.2" stroke-width="2.5"/><circle cx="678.01" cy="232.94" r="3.2" stroke-width="2.5"/><line x1="665.94" y1="236.97" x2="679.27" y2="219.95" stroke-width="2.4"/></g>
<path d="M701.30,222.10 H705.00 V240.40 H701.30 V227.40 L696.30,229.50 L695.90,226.10 Z" fill="#15367a"/>
<text transform="translate(707.22,240.30) scale(0.9994,1)" font-size="24.4" font-weight="bold" fill="#15367a" stroke="#15367a" stroke-width="0.800" stroke-linejoin="round">9</text>
<g fill="none" stroke="#15367a"><circle cx="726.53" cy="226.34" r="3.2" stroke-width="2.5"/><circle cx="737.37" cy="235.54" r="3.2" stroke-width="2.5"/><line x1="724.93" y1="239.57" x2="738.67" y2="222.55" stroke-width="2.4"/></g>
<g fill="none" stroke="#26284f" stroke-width="1.35" stroke-linecap="butt">
<path d="M690.4,422.6 A4.15,4.15 0 1 1 693.2,427.3"/>
<path d="M705.3,419.4 H707.2 A2.05,2.05 0 0 1 707.2,423.5 H703.6 V427.3"/>
<path d="M719.8,419.3 H715 V423.2 H718.3 M714.4,427 H719.8"/>
<path d="M725,425.9 V419.4 L732.1,427.7 M732.1,418.9 V422.7"/>
</g>
<text x="696.3" y="434.6" font-size="4.6" font-weight="bold" fill="#6a6a74" letter-spacing="1.75">BEYOND</text>
<rect x="746.1" y="416" width="21.8" height="5.7" fill="#6c6c6c"/>
<rect x="746.1" y="424" width="21.8" height="11" fill="#6c6c6c"/>
<text transform="translate(747.2,434.1) scale(0.98,1)" font-size="8.9" font-weight="bold" fill="#ffffff" stroke="#ffffff" stroke-width="0.3" letter-spacing="-0.4">MRB</text>
<rect x="778.3" y="412.7" width="1.7" height="25.3" fill="#e5855a"/>

</svg></body></html>
